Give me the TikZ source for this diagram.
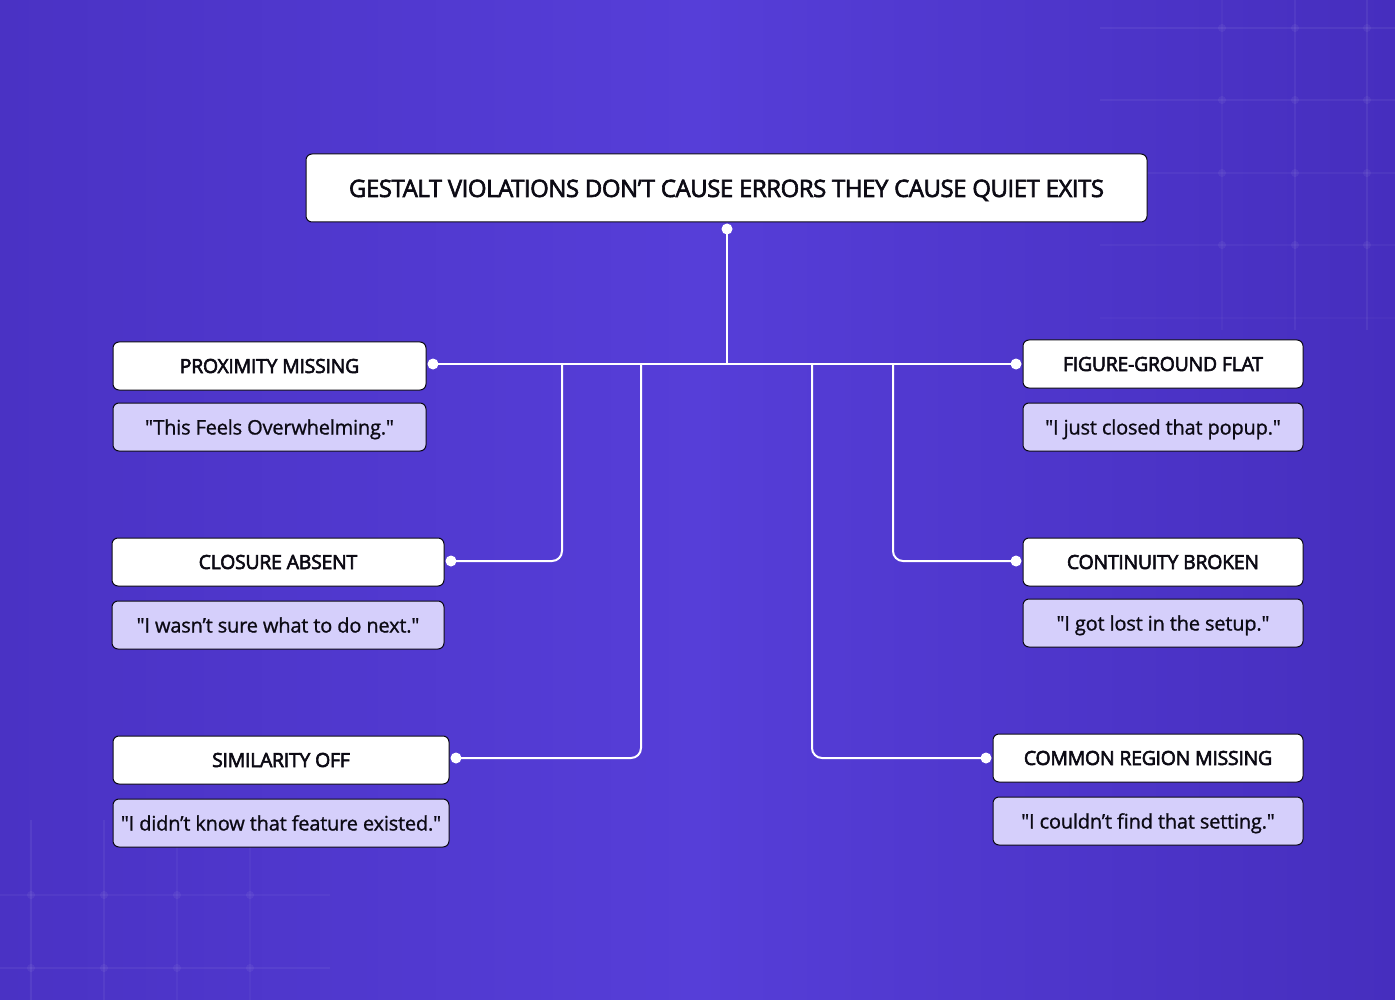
\documentclass[tikz,border=0pt]{standalone}
\usepackage{fontspec}
\setmainfont{Open Sans}[LetterSpace=-2, Ligatures=TeXReset]
\newfontfamily\headfont{Open Sans}[LetterSpace=-1.5, Ligatures=TeXReset, FakeBold=3]
\newfontfamily\titlefont{Open Sans}[LetterSpace=-2, Ligatures=TeXReset, FakeBold=2.5]
\newfontfamily\quotefont{Open Sans}[LetterSpace=-1, Ligatures=TeXReset, FakeBold=1]
\usetikzlibrary{calc}
\definecolor{bgl}{RGB}{74,50,196}
\definecolor{bgm}{RGB}{86,62,216}
\definecolor{bgr}{RGB}{70,46,190}
\definecolor{lav}{RGB}{213,207,251}
\definecolor{ink}{RGB}{12,10,20}
\tikzset{
  head/.style={draw=ink, line width=1pt, fill=white, rounded corners=6pt, inner sep=0pt, text height=17pt, text depth=3pt, font=\headfont\fontsize{19.5}{22}\selectfont, text=ink},
  quote/.style={draw=ink, line width=1pt, fill=lav, rounded corners=6pt, inner sep=0pt, text height=18pt, text depth=3pt, font=\quotefont\fontsize{20}{23}\selectfont, text=ink},
  dot/.style={circle, fill=white, inner sep=0pt, minimum size=11pt},
  link/.style={draw=white, line width=2pt, rounded corners=10pt},
  gridl/.style={draw=white, line width=1.2pt}
}
\begin{document}
\begin{tikzpicture}[x=1pt,y=-1pt]
\useasboundingbox (0,0) rectangle (1395,1000);
\shade[left color=bgl, right color=bgr, middle color=bgm] (0,0) rectangle (1395,1000);
% faint grid, top-right
\foreach \x/\o in {1222/0.03,1295/0.05,1367/0.06}{\draw[gridl, opacity=\o] (\x,0) -- (\x,330);}
\foreach \y/\o in {28/0.06,100/0.05,173/0.045,245/0.035,318/0.025}{\draw[gridl, opacity=\o] (1100,\y) -- (1395,\y);}
\foreach \x in {1222,1295,1367}{\foreach \y in {28,100,173,245}{\fill[white,opacity=0.05] (\x,\y) circle (4);}}
% faint grid, bottom-left
\foreach \x/\o in {31/0.06,104/0.05,177/0.04,250/0.03}{\draw[gridl, opacity=\o] (\x,820) -- (\x,1000);}
\foreach \y/\o in {895/0.04,968/0.05}{\draw[gridl, opacity=\o] (0,\y) -- (330,\y);}
\foreach \x in {31,104,177,250}{\foreach \y in {895,968}{\fill[white,opacity=0.05] (\x,\y) circle (4);}}

% title
\node[head, font=\titlefont\fontsize{24}{28}\selectfont, text height=21pt, text depth=3pt, minimum width=841pt, minimum height=68pt] (title) at (726.5,188) {GESTALT VIOLATIONS DON’T CAUSE ERRORS THEY CAUSE QUIET EXITS};
% left boxes
\node[head, minimum width=313pt, minimum height=48pt] (prox) at (269.5,366) {PROXIMITY MISSING};
\node[quote, minimum width=313pt, minimum height=48pt] (proxq) at (269.5,427) {"This Feels Overwhelming."};
\node[head, minimum width=332pt, minimum height=48pt] (clos) at (278,562) {CLOSURE ABSENT};
\node[quote, minimum width=332pt, minimum height=48pt] (closq) at (278,625) {"I wasn’t sure what to do next."};
\node[head, minimum width=336pt, minimum height=48pt] (simi) at (281,760) {SIMILARITY OFF};
\node[quote, minimum width=336pt, minimum height=48pt] (simiq) at (281,823) {"I didn’t know that feature existed."};
% right boxes
\node[head, minimum width=280pt, minimum height=48pt] (figg) at (1163,364) {FIGURE-GROUND FLAT};
\node[quote, minimum width=280pt, minimum height=48pt] (figgq) at (1163,427) {"I just closed that popup."};
\node[head, minimum width=280pt, minimum height=48pt] (cont) at (1163,562) {CONTINUITY BROKEN};
\node[quote, minimum width=280pt, minimum height=48pt] (contq) at (1163,623) {"I got lost in the setup."};
\node[head, minimum width=310pt, minimum height=48pt] (comm) at (1148,758) {COMMON REGION MISSING};
\node[quote, minimum width=310pt, minimum height=48pt] (commq) at (1148,821) {"I couldn’t find that setting."};

% dots
\node[dot] (dt) at (727,229) {};
\node[dot] (dp) at (433,364) {};
\node[dot] (dc) at (451,561) {};
\node[dot] (ds) at (456,758) {};
\node[dot] (df) at (1016,364) {};
\node[dot] (dn) at (1016,561) {};
\node[dot] (dm) at (986,758) {};

% connectors
\coordinate (hub) at (727,364);
\draw[link] (dt.center) -- (hub);
\draw[link] (dp.center) -- (df.center);
\draw[link] (dc.center) -- (562,561) -- (562,364);
\draw[link] (ds.center) -- (641,758) -- (641,364);
\draw[link] (dn.center) -- (893,561) -- (893,364);
\draw[link] (dm.center) -- (812,758) -- (812,364);
\end{tikzpicture}
\end{document}
